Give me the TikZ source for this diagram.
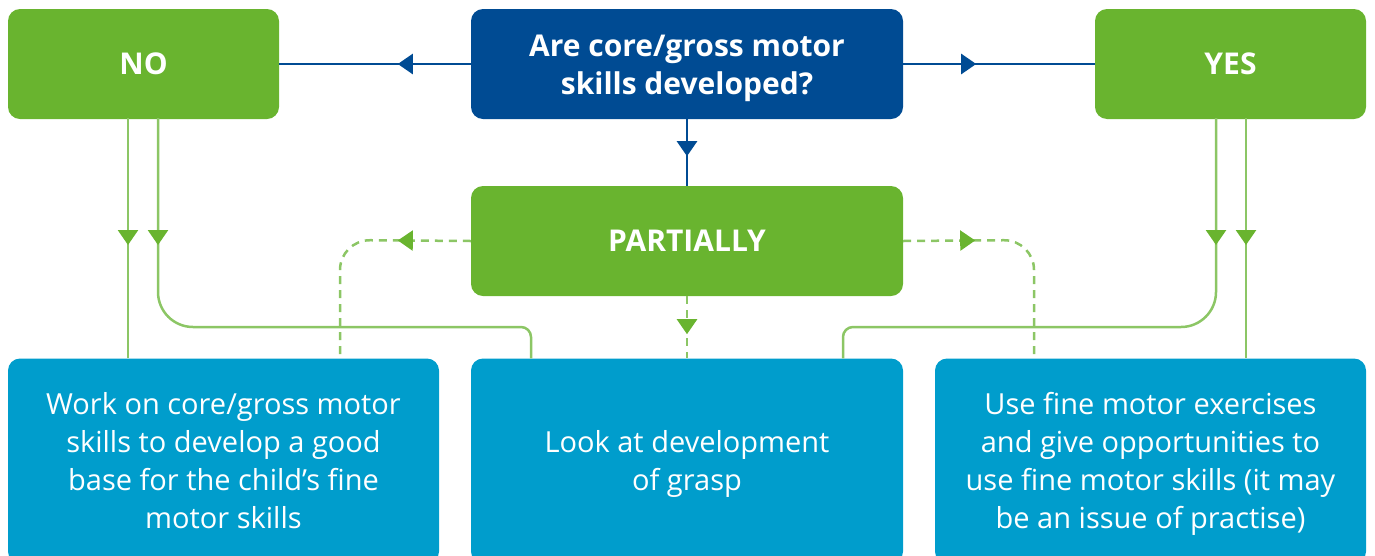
\documentclass[tikz,border=0pt]{standalone}
\usepackage{fontspec}
\setmainfont{Open Sans}
\usetikzlibrary{arrows.meta,decorations.markings,calc}
\definecolor{cgreen}{HTML}{69B42F}
\definecolor{lgreen}{HTML}{8CC665}
\definecolor{dblue}{HTML}{004B93}
\definecolor{cblue}{HTML}{009DCC}
\tikzset{
  tri/.tip={Triangle[width=20pt,length=15pt]},
  box/.style={rectangle,rounded corners=12pt,inner sep=0pt,align=center,text=white},
  head/.style={box,font=\fontsize{30}{38}\selectfont\bfseries},
  body/.style={box,fill=cblue,minimum width=431pt,minimum height=205pt,font=\fontsize{29}{38}\selectfont},
  bmid/.style={postaction={decorate},decoration={markings,mark=at position #1 with {\arrow[dblue]{tri}}}},
  gmid/.style={postaction={decorate},decoration={markings,mark=at position #1 with {\arrow[cgreen]{tri}}}},
  blueline/.style={draw=dblue,line width=2.5pt},
  greenline/.style={draw=lgreen,line width=2.5pt},
  dashline/.style={greenline,dash pattern=on 8pt off 6pt},
}
\begin{document}
\begin{tikzpicture}[x=1pt,y=-1pt]
\useasboundingbox (0,0) rectangle (1375,555);
\clip (0,0) rectangle (1375,555);
\node[head,fill=cgreen,minimum width=271pt,minimum height=110pt] (no) at (143.5,64) {NO};
\node[head,fill=dblue,minimum width=432pt,minimum height=110pt] (q) at (687,64) {\raisebox{-4pt}[\height][\depth]{\begin{tabular}{@{}c@{}}Are core/gross motor\\skills developed?\end{tabular}}};
\node[head,fill=cgreen,minimum width=271pt,minimum height=110pt] (yes) at (1230.5,64) {YES};
\node[head,fill=cgreen,minimum width=432pt,minimum height=110pt] (part) at (687,241) {PARTIALLY};
\node[body] (l) at (223.5,461) {Work on core/gross motor\\skills to develop a good\\base for the child’s fine\\motor skills};
\node[body,minimum width=432pt] (m) at (687,461) {\raisebox{-3pt}[\height][\depth]{\begin{tabular}{@{}c@{}}Look at development\\of grasp\end{tabular}}};
\node[body] (r) at (1150.5,461) {\raisebox{-3pt}[\height][\depth]{\begin{tabular}{@{}c@{}}Use fine motor exercises\\and give opportunities to\\use fine motor skills (it may\\be an issue of practise)\end{tabular}}};
\coordinate (n1) at (128,118);
\coordinate (n2) at (158,118);
\coordinate (y1) at (1216,118);
\coordinate (y2) at (1246,118);
% top blue connectors
\draw[blueline,bmid=73pt] (q.west) -- (no.east);
\draw[blueline,bmid=73pt] (q.east) -- (yes.west);
\draw[blueline,bmid=37pt] (q.south) -- (part.north);
% NO connectors
\draw[greenline,gmid=127pt] (n1) -- (n1 |- l.north);
\draw[greenline,gmid=127pt] (n2) [rounded corners=35pt] -- (158,327) [rounded corners=10pt] -- (531,327) -- (m.north -| 531,0);
% YES connectors
\draw[greenline,gmid=127pt] (y2) -- (y2 |- r.north);
\draw[greenline,gmid=127pt] (y1) [rounded corners=35pt] -- (1216,327) [rounded corners=10pt] -- (843,327) -- (m.north -| 843,0);
% dashed PARTIALLY connectors
\draw[dashline,gmid=73pt] (part.west) [rounded corners=30pt] -- (340,240) -- (l.north -| 340,0);
\draw[dashline,gmid=72pt] (part.east) [rounded corners=30pt] -- (1034,240) -- (r.north -| 1034,0);
\draw[dashline,gmid=38pt] (part.south) -- (m.north);
\end{tikzpicture}
\end{document}
